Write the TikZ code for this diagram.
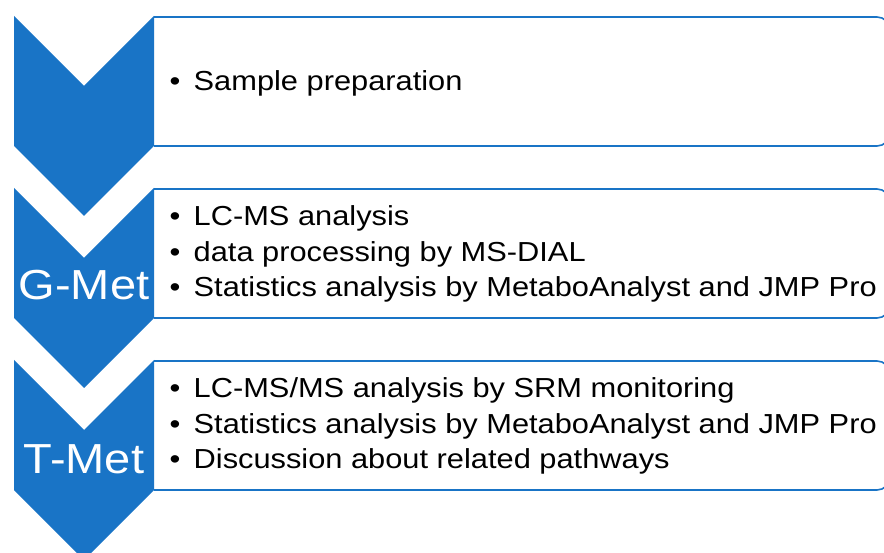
\documentclass[tikz,border=0pt]{standalone}
\usepackage{fontspec}
\setmainfont[FakeStretch=1.12]{Liberation Sans}
\definecolor{chevblue}{RGB}{25,116,198}
\newcommand{\itemline}[1]{\makebox[24pt][l]{\textbullet}#1}
\begin{document}
\begin{tikzpicture}[x=1pt,y=-1pt,
  chevron/.style={fill=chevblue,draw=none},
  listbox/.style={draw=chevblue,line width=1.6pt,rounded corners=13pt},
  bodytext/.style={anchor=base west,inner sep=0pt,text=black,font=\fontsize{27.5}{35.5}\selectfont},
  label/.style={anchor=base,inner sep=0pt,text=white,font=\fontsize{42}{48}\selectfont}]
\clip (0,0) rectangle (884,553);
\useasboundingbox (0,0) rectangle (884,553);
\fill[white] (0,0) rectangle (884,553);
% list boxes (right ends run past the picture edge)
\foreach \t in {16,188,360}{
  \draw[listbox] (154,\t+1) -- (890,\t+1) -- (890,\t+130) -- (154,\t+130);
}
% chevrons
\foreach \t in {16,188,360}{
  \fill[chevron] (14,\t) -- (84,\t+70) -- (154,\t) -- (154,\t+130) -- (84,\t+200) -- (14,\t+130) -- cycle;
}
% labels
\node[label] (gmet) at (84,300) {G-Met};
\node[label] (tmet) at (84,473) {T-Met};
% texts
\node[bodytext] (t1) at (169.5,91) {\begin{tabular}[t]{@{}l@{}}\itemline{Sample preparation}\end{tabular}};
\node[bodytext] (t2) at (169.5,226) {\begin{tabular}[t]{@{}l@{}}\itemline{LC-MS analysis}\\ \itemline{data processing by MS-DIAL}\\ \itemline{Statistics analysis by MetaboAnalyst and JMP Pro}\end{tabular}};
\node[bodytext] (t3) at (169.5,398) {\begin{tabular}[t]{@{}l@{}}\itemline{LC-MS/MS analysis by SRM monitoring}\\ \itemline{Statistics analysis by MetaboAnalyst and JMP Pro}\\ \itemline{Discussion about related pathways}\end{tabular}};
\end{tikzpicture}
\end{document}
